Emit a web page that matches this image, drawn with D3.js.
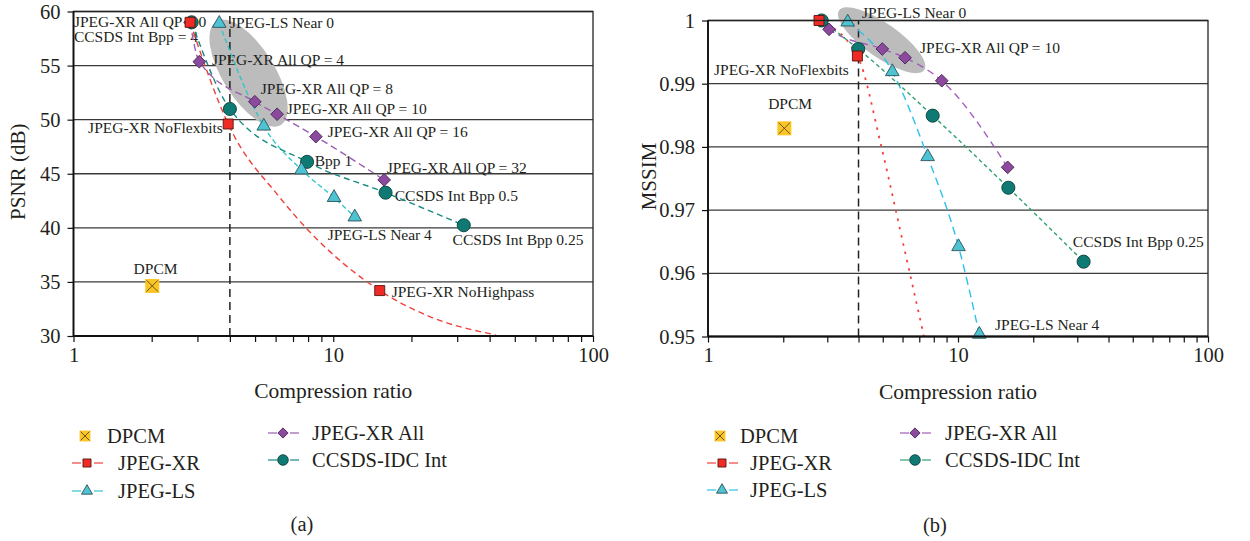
<!DOCTYPE html>
<html><head><meta charset="utf-8">
<script src="https://cdnjs.cloudflare.com/ajax/libs/d3/7.8.5/d3.min.js"></script>
<style>
body{margin:0;background:#fff}
svg{display:block}
text{font-family:"Liberation Serif","DejaVu Serif",serif;fill:#231f20}
</style>
</head><body>
<svg id="c" width="1250" height="541"></svg>
<script>
// ---------------- DATA ----------------
const xTickLabels = [1, 10, 100];
const xMinorTicks = [2,3,4,5,6,7,8,9,20,30,40,50,60,70,80,90];
const yTicksA = [30,35,40,45,50,55,60];
const yTicksB = [0.95,0.96,0.97,0.98,0.99,1];
const seriesNames = ["DPCM","JPEG-XR","JPEG-LS","JPEG-XR All","CCSDS-IDC Int"];

// (a) PSNR vs compression ratio
const dpcmA   = [[2.01,34.63]];
const xrA     = [[2.81,59.0],[3.94,49.6],[15.1,34.2]];
const xrTrendA= [[2.81,59.0],[3.94,49.6],[6.23,42.8],[15.1,34.2],[23.5,31.8],[42.2,30.1]];
const lsA     = [[3.64,58.9],[5.40,49.4],[7.55,45.35],[10.07,42.8],[12.1,41.0]];
const xrAllA  = [[2.81,59.0],[3.05,55.36],[4.99,51.66],[6.08,50.5],[8.57,48.43],[15.7,44.43]];
const ccsdsA  = [[2.85,59.0],[4.0,50.99],[7.93,46.1],[15.9,43.25],[31.8,40.24]];
const labelsA = [
  ["JPEG-XR All QP = 0",1.004,59.06,"start"],
  ["CCSDS Int Bpp = 4",1.004,57.67,"start"],
  ["JPEG-LS Near 0",4.0,58.94,"start"],
  ["JPEG-XR All QP = 4",3.41,55.52,"start"],
  ["JPEG-XR All QP = 8",5.26,52.84,"start"],
  ["JPEG-XR All QP = 10",6.62,50.99,"start"],
  ["JPEG-XR All QP = 16",9.52,48.86,"start"],
  ["JPEG-XR NoFlexbits",3.76,49.23,"end"],
  ["Bpp 1",8.49,46.18,"start"],
  ["JPEG-XR All QP = 32",16.07,45.54,"start"],
  ["CCSDS Int Bpp 0.5",17.25,42.95,"start"],
  ["JPEG-LS Near 4",9.52,39.34,"start"],
  ["CCSDS Int Bpp 0.25",28.8,38.88,"start"],
  ["JPEG-XR NoHighpass",16.79,34.08,"start"],
  ["DPCM",2.07,36.2,"middle"]
];
const highlightA = [4.72,54.3];

// (b) MSSIM vs compression ratio
const dpcmB   = [[2.02,0.98294]];
const xrB     = [[2.78,1.0],[3.96,0.99438]];
const xrTrendB= [[2.78,1.0],[3.96,0.99438],[4.95,0.97983],[5.95,0.96579],[7.31,0.95]];
const lsB     = [[3.62,0.99975],[5.46,0.9919],[7.56,0.97845],[10.05,0.96421],[12.17,0.95035]];
const xrAllB  = [[2.8,1.0],[3.05,0.9986],[4.98,0.99549],[6.14,0.99411],[8.61,0.99047],[15.8,0.97677]];
const ccsdsB  = [[2.85,1.0],[3.99,0.99549],[7.92,0.98494],[15.9,0.97354],[31.8,0.96184]];
const labelsB = [
  ["JPEG-LS Near 0",4.13,1.0012,"start"],
  ["JPEG-XR All QP = 10",7.05,0.99565,"start"],
  ["JPEG-XR NoFlexbits",3.66,0.99217,"end"],
  ["DPCM",2.13,0.98679,"middle"],
  ["CCSDS Int Bpp 0.25",28.8,0.96495,"start"],
  ["JPEG-LS Near 4",14.06,0.95182,"start"]
];
const highlightB = [4.95,0.99688];
const refRatio = 4;

// ---------------- STYLES ----------------
const mk = {
  xr:   {type:"square",  fill:"#ee2b24", stroke:"#5a1410", size:100},
  ls:   {type:"triangle",fill:"#4ec3d3", stroke:"#2c5058", size:80},
  xrAll:{type:"diamond", fill:"#8c4a9f", stroke:"#4a2656", size:80},
  cc:   {type:"circle",  fill:"#0f7a73", stroke:"#08403c", size:135},
  dpcm: {type:"dpcm",    fill:"#fbc524", stroke:"#6a5420", size:196}
};

const svg = d3.select("#c");

function drawMarker(g, x, y, st, scale) {
  const s = st.size * (scale||1);
  if (st.type === "dpcm") {
    const h = Math.sqrt(s)/2;
    g.append("rect").attr("x",x-h).attr("y",y-h).attr("width",2*h).attr("height",2*h)
      .attr("fill",st.fill);
    g.append("path").attr("d",`M${x-h*0.8},${y-h*0.8}L${x+h*0.8},${y+h*0.8}M${x+h*0.8},${y-h*0.8}L${x-h*0.8},${y+h*0.8}`)
      .attr("stroke",st.stroke).attr("stroke-width",1);
    return;
  }
  let sym, rot = 0;
  if (st.type === "square") sym = d3.symbolSquare;
  if (st.type === "triangle") sym = d3.symbolTriangle;
  if (st.type === "diamond") { sym = d3.symbolSquare; rot = 45; }
  if (st.type === "circle") sym = d3.symbolCircle;
  g.append("path").attr("d", d3.symbol().type(sym).size(s)())
    .attr("transform", `translate(${x},${y}) rotate(${rot})`)
    .attr("fill", st.fill).attr("stroke", st.stroke).attr("stroke-width", 0.9);
}

function panel(cfg) {
  const g = svg.append("g");
  const x = d3.scaleLog().domain([1,100]).range(cfg.xr);
  const y = d3.scaleLinear().domain(cfg.yd).range(cfg.yr);
  const [x0,x1] = cfg.xr, [yb,yt] = cfg.yr;

  // gridlines
  g.append("g").selectAll("line").data(cfg.yticks).join("line")
    .attr("x1",x0).attr("x2",x1).attr("y1",d=>y(d)).attr("y2",d=>y(d))
    .attr("stroke","#3a3a3a").attr("stroke-width",1.3);

  // highlight ellipse
  g.append("ellipse").attr("cx",x(cfg.hl[0])).attr("cy",y(cfg.hl[1]))
    .attr("rx",cfg.ell[0]).attr("ry",cfg.ell[1])
    .attr("transform",`rotate(${cfg.ell[2]},${x(cfg.hl[0])},${y(cfg.hl[1])})`)
    .attr("fill","#bcbcbc");

  // labels
  g.append("g").selectAll("text").data(cfg.labels).join("text")
    .attr("x",d=>x(d[1])).attr("y",d=>y(d[2])).attr("dy","0.35em")
    .attr("text-anchor",d=>d[3]).attr("font-size",15.5).text(d=>d[0]);

  // reference vertical dashed line
  g.append("line").attr("x1",x(refRatio)).attr("x2",x(refRatio)).attr("y1",yb).attr("y2",yt)
    .attr("stroke","#222").attr("stroke-width",1.5).attr("stroke-dasharray","8,5");

  // series lines
  const line = d3.line().x(d=>x(d[0])).y(d=>y(d[1])).curve(d3.curveMonotoneX);
  cfg.lines.forEach(L => {
    g.append("path").attr("d", line(L.data)).attr("fill","none")
      .attr("stroke",L.color).attr("stroke-width",L.w||1.4)
      .attr("stroke-dasharray",L.dash);
  });

  // markers
  cfg.points.forEach(P => P.data.forEach(d => drawMarker(g, x(d[0]), y(d[1]), P.st)));

  // frame
  g.append("rect").attr("x",x0).attr("y",yt).attr("width",x1-x0).attr("height",yb-yt)
    .attr("fill","none").attr("stroke","#222").attr("stroke-width",1.3);
  g.append("line").attr("x1",x0).attr("x2",x0).attr("y1",yt).attr("y2",yb)
    .attr("stroke","#111").attr("stroke-width",1.8);
  g.append("line").attr("x1",x0).attr("x2",x1).attr("y1",yb).attr("y2",yb)
    .attr("stroke","#111").attr("stroke-width",1.8);

  // axes
  const xa = g.append("g").attr("transform",`translate(0,${yb})`)
    .call(d3.axisBottom(x).tickValues(xTickLabels.concat(xMinorTicks)).tickSize(6).tickPadding(5)
      .tickFormat(d => xTickLabels.includes(d) ? String(d) : ""));
  xa.select(".domain").remove();
  xa.selectAll("line").attr("stroke","#111").attr("stroke-width",1.2);
  xa.selectAll("text").attr("font-size",20.5).attr("font-family","Liberation Serif").attr("fill","#231f20");

  const ya = g.append("g").attr("transform",`translate(${x0},0)`)
    .call(d3.axisLeft(y).tickValues(cfg.yticks).tickSize(6).tickPadding(7).tickFormat(cfg.yfmt));
  ya.select(".domain").remove();
  ya.selectAll("line").attr("stroke","#111").attr("stroke-width",1.2);
  ya.selectAll("text").attr("font-size",20.5).attr("font-family","Liberation Serif").attr("fill","#231f20");

  // axis titles
  g.append("text").attr("x",(x0+x1)/2).attr("y",yb+62).attr("text-anchor","middle")
    .attr("font-size",21.5).text("Compression ratio");
  g.append("text").attr("transform",`translate(${cfg.ytx},${(yb+yt)/2 - 2}) rotate(-90)`)
    .attr("text-anchor","middle").attr("font-size",21).text(cfg.ytitle);

  // legend
  const lg = g.append("g");
  const L = cfg.leg;
  const items = [
    {name:seriesNames[0], st:mk.dpcm, col:null, cx:L.c1, cy:L.r[0], tx:L.t0},
    {name:seriesNames[1], st:mk.xr, col:cfg.lines[0].color, cx:L.c1+2, cy:L.r[1], tx:L.t1},
    {name:seriesNames[2], st:mk.ls, col:cfg.lines[1].color, cx:L.c1+2, cy:L.r[2], tx:L.t1},
    {name:seriesNames[3], st:mk.xrAll, col:cfg.lines[2].color, cx:L.c2, cy:L.r2[0], tx:L.t2},
    {name:seriesNames[4], st:mk.cc, col:cfg.lines[3].color, cx:L.c2, cy:L.r2[1], tx:L.t2}
  ];
  items.forEach(it => {
    if (it.col) {
      lg.append("line").attr("x1",it.cx-15).attr("x2",it.cx-6).attr("y1",it.cy).attr("y2",it.cy)
        .attr("stroke",it.col).attr("stroke-width",1.6).attr("opacity",0.75);
      lg.append("line").attr("x1",it.cx+7).attr("x2",it.cx+16).attr("y1",it.cy).attr("y2",it.cy)
        .attr("stroke",it.col).attr("stroke-width",1.6).attr("opacity",0.75);
    }
    drawMarker(lg, it.cx, it.cy, it.st, it.st.type==="dpcm"?0.6:0.65);
    lg.append("text").attr("x",it.tx).attr("y",it.cy).attr("dy","0.35em")
      .attr("font-size",20.5).text(it.name);
  });
  g.append("text").attr("x",cfg.cap[0]).attr("y",cfg.cap[1]).attr("text-anchor","middle")
    .attr("dy","0.35em").attr("font-size",20.5).text(cfg.caption);
}

panel({
  xr:[73.5,593], yd:[30,60], yr:[336,11.5], yticks:yTicksA, yfmt:d=>String(d),
  ytitle:"PSNR (dB)", ytx:25, hl:highlightA, ell:[61,26,58],
  labels:labelsA,
  lines:[
    {data:xrTrendA, color:"#f0413a", dash:"6,4"},
    {data:lsA, color:"#33c6c8", dash:"5,3"},
    {data:xrAllA, color:"#9b5cb2", dash:"7,4"},
    {data:ccsdsA, color:"#168a82", dash:"6,4"}
  ],
  points:[
    {data:xrAllA, st:mk.xrAll},{data:ccsdsA, st:mk.cc},{data:lsA, st:mk.ls},
    {data:xrA, st:mk.xr},{data:dpcmA, st:mk.dpcm}
  ],
  leg:{c1:85, r:[436,463,491], t0:107, t1:118, c2:283, r2:[433,460], t2:312},
  cap:[302,524], caption:"(a)"
});

panel({
  xr:[708,1208], yd:[0.95,1], yr:[336.5,20.5], yticks:yTicksB, yfmt:d=>d===1?"1":d3.format(".2f")(d),
  ytitle:"MSSIM", ytx:656, hl:highlightB, ell:[52,17,35],
  labels:labelsB,
  lines:[
    {data:xrTrendB, color:"#f4413c", dash:"2.5,6", w:1.8},
    {data:lsB, color:"#2cc0ee", dash:"8,5"},
    {data:xrAllB, color:"#a35cbc", dash:"7,5"},
    {data:ccsdsB, color:"#32a06e", dash:"4,3"}
  ],
  points:[
    {data:xrAllB, st:mk.xrAll},{data:ccsdsB, st:mk.cc},{data:lsB, st:mk.ls},
    {data:xrB, st:mk.xr},{data:dpcmB, st:mk.dpcm}
  ],
  leg:{c1:720, r:[436,463,490], t0:740, t1:750, c2:915, r2:[433,460], t2:945},
  cap:[935,525], caption:"(b)"
});
</script>
</body></html>
